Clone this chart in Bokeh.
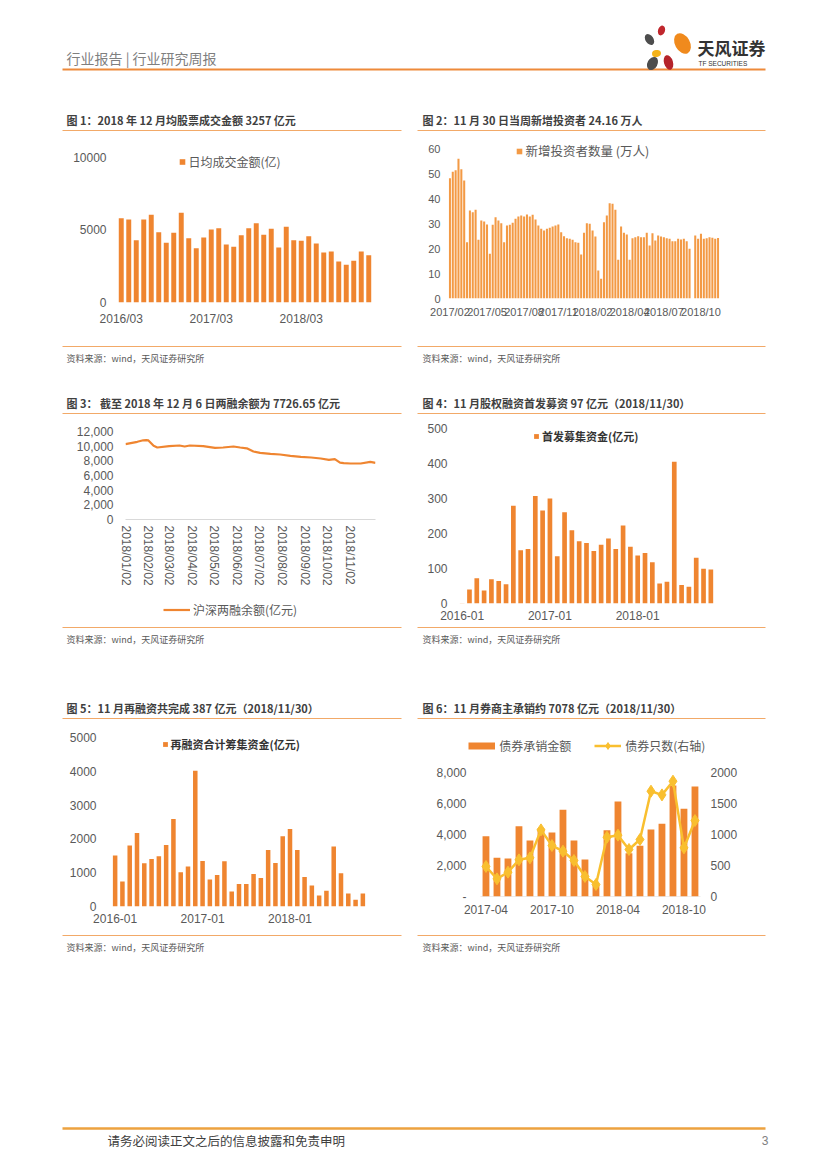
import pandas as pd
from bokeh.plotting import figure
from bokeh.layouts import column, row
from bokeh.models import (Range1d, FixedTicker, LinearAxis, Legend, LegendItem,
                          NumeralTickFormatter, DatetimeTickFormatter)
from bokeh.core.properties import value
from bokeh.embed import file_html
from bokeh.resources import INLINE

CJK = "Noto Sans CJK SC"
NUM = "Liberation Sans"
ORANGE = "#EF8530"
ORANGE_LIGHT = "#F39A45"
GOLD = "#F9BF2F"
RULE = "#F2A968"
TICK = "#595959"
TITLE = "#404040"
NAN = float("nan")

# ------------------------------------------------------------------ data
# Fig.1 monthly average daily turnover (亿元)
c1_months = pd.period_range("2016-03", "2018-12", freq="M").strftime("%Y/%m").tolist()
c1_values = [5816, 5724, 4299, 5724, 6046, 4851, 4115, 4805, 6184, 4437,
             3747, 4483, 5034, 5126, 4000, 3839, 4644, 5126, 5471, 4667,
             5080, 3793, 5218, 4299, 4253, 4575, 4069, 3448, 3517, 2828,
             2598, 2874, 3517, 3257]
c1_ticks = ["2016/03", "2017/03", "2018/03"]

# Fig.2 weekly new investors (万人)
c2_values = [48.1, 50.7, 51.3, 55.9, 51.7, 47.2, 22.5, 35.2, 34.5, 35.5,
             23.5, 31.2, 30.8, 29.6, 17.9, 29.5, 32.5, 31.2, 30.1, 22.5,
             29.2, 29.5, 30.3, 31.9, 32.8, 33.2, 32.8, 33.6, 32.8, 33.5,
             31.6, 29.2, 27.9, 27.2, 27.9, 28.3, 28.8, 29.2, 29.6, 26.5,
             24.9, 24.1, 23.9, 23.5, 22.5, 22.3, 17.6, 26.3, 30.1, 29.9,
             27.2, 24.8, 11.2, 7.9, 30.5, 33.2, 38.1, 37.9, 35.5, 15.5,
             28.8, 26.3, 25.6, 15.5, 24.1, 24.5, 24.9, 24.5, 24.5, 26.3,
             21.2, 26.1, 23.2, 25.2, 24.8, 24.5, 24.1, 23.9, 22.9, 22.9,
             23.9, 23.6, 23.9, 22.9, 19.9, 0, 25.2, 23.9, 25.9, 23.9,
             24.1, 24.5, 24.3, 23.9, 24.16]
c2_tick_index = [0, 13, 26, 38, 50, 63, 75, 88]
c2_tick_labels = ["2017/02", "2017/05", "2017/08", "2017/11",
                  "2018/02", "2018/04", "2018/07", "2018/10"]

# Fig.3 margin balance (亿元)
c3_dates = ["2018-01-02", "2018-01-18", "2018-01-26", "2018-01-30", "2018-02-02",
            "2018-02-09", "2018-02-14", "2018-03-02", "2018-03-16", "2018-03-23",
            "2018-03-30", "2018-04-17", "2018-05-03", "2018-05-14", "2018-05-28",
            "2018-06-06", "2018-06-15", "2018-06-24", "2018-07-03", "2018-07-17",
            "2018-07-30", "2018-08-13", "2018-08-27", "2018-09-10", "2018-09-23",
            "2018-10-04", "2018-10-12", "2018-10-19", "2018-10-24", "2018-11-02",
            "2018-11-16", "2018-11-29", "2018-12-06"]
c3_values = [10282, 10595, 10800, 10827, 10780,
             10050, 9818, 10009, 10091, 9955,
             10091, 10009, 9777, 9818, 9955,
             9818, 9700, 9273, 9091, 8955,
             8864, 8682, 8545, 8455, 8318,
             8136, 8227, 7750, 7682, 7636,
             7636, 7864, 7726]
c3_ticks = ["2018-%02d-02" % m for m in range(1, 12)]

# Fig.4 IPO funds raised (亿元)
c4_months = pd.period_range("2016-01", "2018-11", freq="M").strftime("%Y-%m").tolist()
c4_values = [0.8, 40, 72, 37, 69, 64, 55, 279, 152, 156,
             307, 266, 300, 135, 261, 209, 178, 173, 150, 168,
             186, 156, 223, 162, 137, 144, 118, 57, 62, 405,
             53, 48, 131, 99, 97]
c4_ticks = ["2016-01", "2017-01", "2018-01"]

# Fig.5 refinancing funds raised (亿元)
c5_months = pd.period_range("2016-01", "2018-11", freq="M").strftime("%Y-%m").tolist()
c5_values = [1506, 738, 1801, 2175, 1280, 1407, 1486, 1821, 2589, 1014,
             1181, 4016, 1348, 797, 935, 1339, 443, 669, 669, 965,
             846, 1673, 1289, 2077, 2293, 1673, 876, 620, 325, 463,
             1772, 984, 384, 197, 387]
c5_ticks = ["2016-01", "2017-01", "2018-01"]

# Fig.6 bond underwriting amount (亿元) and bond count
c6_months = pd.period_range("2017-04", "2018-11", freq="M").strftime("%Y-%m").tolist()
c6_amount = [3882, 2488, 2445, 4525, 3603, 4400, 4118, 5576, 3603, 2381,
             700, 4268, 6113, 2788, 3260, 4311, 4676, 7142, 5641, 7078]
c6_count = [483, 284, 391, 590, 622, 1072, 820, 729, 579, 322,
            193, 954, 987, 756, 917, 1694, 1635, 1855, 783, 1222]
c6_ticks = ["2017-04", "2017-10", "2018-04", "2018-10"]

SOURCE = "资料来源：wind，天风证券研究所"
TITLES = [
    "图 1：2018 年 12 月均股票成交金额 3257 亿元",
    "图 2：11 月 30 日当周新增投资者 24.16 万人",
    "图 3：  截至 2018 年 12 月 6 日两融余额为 7726.65 亿元",
    "图 4：11 月股权融资首发募资 97 亿元（2018/11/30）",
    "图 5：11 月再融资共完成 387 亿元（2018/11/30）",
    "图 6：11 月券商主承销约 7078 亿元（2018/11/30）",
]

PAGE_W = 819


# ------------------------------------------------------------------ helpers
def make_strip(top, bottom):
    p = figure(width=PAGE_W, height=bottom - top, x_range=Range1d(0, PAGE_W),
               y_range=Range1d(bottom, top), output_backend="svg",
               toolbar_location=None, x_axis_location=None, y_axis_location=None,
               min_border=0)
    p.grid.visible = False
    p.outline_line_color = None
    p.background_fill_color = "white"
    p.border_fill_color = "white"
    return p


def put_text(p, x, y, s, size, color, bold=False, font=CJK, align="left"):
    p.text(x=[x], y=[y], text=[s], text_font=value(font), text_font_size=size,
           text_color=color, text_font_style="bold" if bold else "normal",
           text_baseline="middle", text_align=align)


def rule(p, x0, x1, y, color=RULE, width=1):
    p.segment(x0=[x0], y0=[y], x1=[x1], y1=[y], line_color=color, line_width=width)


def titles(p, y, left, right):
    put_text(p, 66, y, left, "11px", TITLE, bold=True)
    put_text(p, 422, y, right, "11px", TITLE, bold=True)
    rule(p, 62, 401, y + 11)
    rule(p, 417, 765, y + 11)


def sources(p, y):
    rule(p, 62, 401, y)
    rule(p, 417, 765, y)
    put_text(p, 66, y + 12, SOURCE, "9px", TICK)
    put_text(p, 422, y + 12, SOURCE, "9px", TICK)


def chart_fig(w, h, bl, br, bt, bb, xr, yr, **kw):
    p = figure(width=w, height=h, x_range=xr, y_range=yr, output_backend="svg",
               toolbar_location=None, min_border_left=bl, min_border_right=br,
               min_border_top=bt, min_border_bottom=bb, **kw)
    p.outline_line_color = None
    p.grid.visible = False
    p.background_fill_color = "white"
    p.border_fill_color = "white"
    return p


def style_axis(ax, size="12px", standoff=8):
    ax.major_tick_line_color = None
    ax.minor_tick_line_color = None
    ax.major_tick_out = 0
    ax.major_tick_in = 0
    ax.minor_tick_out = 0
    ax.minor_tick_in = 0
    ax.axis_line_color = None
    ax.major_label_text_color = TICK
    ax.major_label_text_font = NUM
    ax.major_label_text_font_size = size
    ax.major_label_standoff = standoff


def cat_ticks(ax, cats, labels):
    idx = [cats.index(t) for t in labels]
    ax.ticker = FixedTicker(ticks=idx)
    ax.major_label_overrides = {i: cats[i] for i in idx}


def square_key(p, color):
    # legend proxy: a single undrawn (NaN) point carrying the legend style
    return p.scatter(x=[NAN], y=[NAN], marker="square", fill_color=color, line_color=None)


def add_legend(p, items, vx, vy, gw, gh, size, bold=False, color=TICK,
               standoff=0, spacing=0):
    leg = Legend(items=[LegendItem(label=value(l), renderers=r) for l, r in items],
                 location=(vx, vy), orientation="horizontal", padding=0, margin=0,
                 spacing=spacing, glyph_width=gw, glyph_height=gh, label_height=gh,
                 label_standoff=standoff, border_line_color=None,
                 background_fill_alpha=0, label_text_font=CJK,
                 label_text_font_size=size, label_text_color=color,
                 label_text_font_style="bold" if bold else "normal")
    p.add_layout(leg)


# ------------------------------------------------------------------ strips
sA = make_strip(0, 137)
put_text(sA, 66, 57, "行业报告 | 行业研究周报", "14px", "#7F7F7F")
rule(sA, 62, 765, 69, "#EE8A3A", 2)
sA.ellipse(x=[661, 682, 649, 656, 652, 668], y=[30, 43, 39, 53, 63, 62],
           width=[7, 15, 8, 9, 10, 9], height=[10, 22, 12, 7, 14, 15],
           angle=[-0.3, 0.5, 0.6, 0.2, -0.5, 0.3],
           fill_color=["#C0272D", "#F08A1D", "#4D4D4D", "#F5B31A", "#4D4D4D", "#B5242B"],
           line_color=None)
put_text(sA, 697, 47, "天风证券", "17px", "#333333", bold=True)
put_text(sA, 698, 63, "TF SECURITIES", "6.5px", "#333333", font=NUM)
titles(sA, 119, TITLES[0], TITLES[1])

sB = make_strip(340, 420)
sources(sB, 346)
titles(sB, 402, TITLES[2], TITLES[3])

sC = make_strip(625, 725)
sources(sC, 627)
titles(sC, 707, TITLES[4], TITLES[5])

sD = make_strip(930, 1161)
sources(sD, 935)
rule(sD, 62, 765, 1128, "#EDA23F", 2.5)
put_text(sD, 107, 1140, "请务必阅读正文之后的信息披露和免责申明", "12.5px", "#404040")
put_text(sD, 768, 1140, "3", "12px", "#7F7F7F", font=NUM, align="right")

# ------------------------------------------------------------------ chart 1
n1 = len(c1_values)
p1 = chart_fig(413, 203, 117, 41, 11, 38, Range1d(-0.5, n1 - 0.5), Range1d(0, 10620))
p1.vbar(x=list(range(n1)), top=c1_values, width=0.66, fill_color=ORANGE, line_color=None)
style_axis(p1.yaxis[0], "12px", 11)
style_axis(p1.xaxis[0], "12px", 9)
p1.yaxis.ticker = FixedTicker(ticks=[0, 5000, 10000])
cat_ticks(p1.xaxis[0], c1_months, c1_ticks)
add_legend(p1, [("日均成交金额(亿)", [square_key(p1, ORANGE)])], 57.5, 132.5, 14, 17, "12px")

# ------------------------------------------------------------------ chart 2
n2 = len(c2_values)
p2 = chart_fig(406, 203, 35, 100, 3, 42, Range1d(-0.5, n2 - 0.5), Range1d(0, 63.2))
p2.vbar(x=list(range(n2)), top=c2_values, width=0.72, fill_color=ORANGE_LIGHT, line_color=None)
style_axis(p2.yaxis[0], "11px", 8)
style_axis(p2.xaxis[0], "11px", 7)
p2.yaxis.ticker = FixedTicker(ticks=[0, 10, 20, 30, 40, 50, 60])
p2.xaxis.ticker = FixedTicker(ticks=c2_tick_index)
p2.xaxis.major_label_overrides = dict(zip(c2_tick_index, c2_tick_labels))
add_legend(p2, [("新增投资者数量 (万人)", [square_key(p2, ORANGE_LIGHT)])],
           63.5, 138, 14, 18, "12.5px")

# ------------------------------------------------------------------ chart 3
p3 = chart_fig(413, 180, 125, 38, 11, 81,
               Range1d(pd.Timestamp("2018-01-02"), pd.Timestamp("2018-12-06")),
               Range1d(0, 12000), x_axis_type="datetime")
r3 = p3.line(x=pd.to_datetime(c3_dates), y=c3_values, line_color=ORANGE, line_width=2.2)
style_axis(p3.yaxis[0], "12px", 12)
style_axis(p3.xaxis[0], "12px", 6)
p3.xaxis.axis_line_color = "#D9D9D9"
p3.yaxis.ticker = FixedTicker(ticks=list(range(0, 12001, 2000)))
p3.yaxis.formatter = NumeralTickFormatter(format="0,0")
p3.xaxis.ticker = FixedTicker(ticks=[pd.Timestamp(d).value / 1e6 for d in c3_ticks])
p3.xaxis.formatter = DatetimeTickFormatter(days="%Y/%m/%d", months="%Y/%m/%d",
                                           years="%Y/%m/%d", hours="%Y/%m/%d")
p3.xaxis.major_label_orientation = "vertical"

# legend strip under chart 3 (its own small figure, same side borders)
q3 = figure(width=413, height=25, x_range=Range1d(0, 1), y_range=Range1d(0, 1),
            output_backend="svg", toolbar_location=None, x_axis_location=None,
            y_axis_location=None, min_border_left=125, min_border_right=38,
            min_border_top=0, min_border_bottom=0)
q3.grid.visible = False
q3.outline_line_color = None
q3.background_fill_color = "white"
q3.border_fill_color = "white"
k3 = q3.line(x=[NAN, NAN], y=[NAN, NAN], line_color=ORANGE, line_width=2.2)
add_legend(q3, [("沪深两融余额(亿元)", [k3])], 38, 7.5, 27, 17, "12px", standoff=3)

# ------------------------------------------------------------------ chart 4
n4 = len(c4_values)
p4 = chart_fig(406, 205, 45, 105, 4, 22, Range1d(-0.5, n4 - 0.5), Range1d(0, 511.4))
p4.vbar(x=list(range(n4)), top=c4_values, width=0.64, fill_color=ORANGE, line_color=None)
style_axis(p4.yaxis[0], "12px", 11)
style_axis(p4.xaxis[0], "12px", 7)
p4.yaxis.ticker = FixedTicker(ticks=[0, 100, 200, 300, 400, 500])
cat_ticks(p4.xaxis[0], c4_months, c4_ticks)
add_legend(p4, [("首发募集资金(亿元)", [square_key(p4, ORANGE)])], 72, 159.5, 12, 16, "11px",
           bold=True, color="#333333")

# ------------------------------------------------------------------ chart 5
n5 = len(c5_values)
p5 = chart_fig(413, 205, 111, 47, 8, 24, Range1d(-0.5, n5 - 0.5), Range1d(0, 5118))
p5.vbar(x=list(range(n5)), top=c5_values, width=0.62, fill_color=ORANGE, line_color=None)
style_axis(p5.yaxis[0], "12px", 15)
style_axis(p5.xaxis[0], "12px", 7)
p5.yaxis.ticker = FixedTicker(ticks=[0, 1000, 2000, 3000, 4000, 5000])
cat_ticks(p5.xaxis[0], c5_months, c5_ticks)
add_legend(p5, [("再融资合计筹集资金(亿元)", [square_key(p5, ORANGE)])], 47.5, 154.5, 12, 16,
           "11px", bold=True, color="#333333")

# ------------------------------------------------------------------ chart 6
n6 = len(c6_amount)
x6 = list(range(n6))
p6 = chart_fig(406, 205, 53, 111, 9, 34, Range1d(-1.77, 20.23), Range1d(0, 10426))
p6.extra_y_ranges = {"cnt": Range1d(0, 2606.6)}
p6.segment(x0=[-0.5], y0=[0], x1=[n6 - 0.5], y1=[0], line_color="#D9D9D9", line_width=1)
p6.vbar(x=x6, top=c6_amount, width=0.62, fill_color=ORANGE, line_color=None)
l6 = p6.line(x=x6, y=c6_count, y_range_name="cnt", line_color=GOLD, line_width=2.5)
m6 = p6.scatter(x=x6, y=c6_count, y_range_name="cnt", marker="diamond", size=12,
                fill_color=GOLD, line_color=GOLD)
right6 = LinearAxis(y_range_name="cnt", ticker=FixedTicker(ticks=[0, 500, 1000, 1500, 2000]))
p6.add_layout(right6, "right")
style_axis(p6.yaxis[0], "12px", 0)
style_axis(right6, "12px", 2)
style_axis(p6.xaxis[0], "12px", 8)
p6.yaxis[0].ticker = FixedTicker(ticks=[0, 2000, 4000, 6000, 8000])
p6.yaxis[0].formatter = NumeralTickFormatter(format="0,0")
p6.yaxis[0].major_label_overrides = {0: "-"}
cat_ticks(p6.xaxis[0], c6_months, c6_ticks)
k6 = p6.line(x=[NAN, NAN], y=[NAN, NAN], line_color=ORANGE, line_width=7)
add_legend(p6, [("债券承销金额", [k6]), ("债券只数(右轴)", [l6, m6])],
           2.3, 142.5, 27, 17, "12px", standoff=4, spacing=23)

# ------------------------------------------------------------------ layout
layout = column(
    sA,
    row(column(p1), column(p2)),
    sB,
    row(column(p3, q3), column(p4)),
    sC,
    row(column(p5), column(p6)),
    sD,
)
open("out.html", "w").write(file_html(layout, INLINE))
